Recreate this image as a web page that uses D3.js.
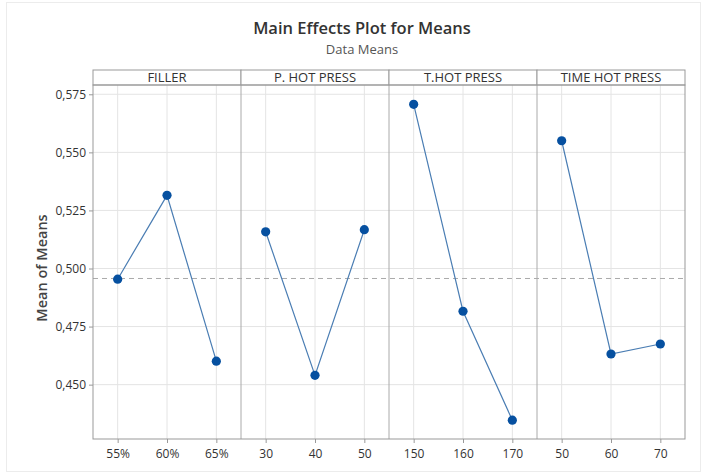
<!DOCTYPE html>
<html><head><meta charset="utf-8">
<script src="https://cdn.jsdelivr.net/npm/d3@7"></script>
<style>body{margin:0;background:#fff;}svg{display:block;font-family:"Open Sans","Noto Sans",sans-serif;}</style>
</head><body><svg id="c" width="707" height="476"></svg>
<script>
const factors = ["FILLER", "P. HOT PRESS", "T.HOT PRESS", "TIME HOT PRESS"];
const levels = [["55%","60%","65%"],["30","40","50"],["150","160","170"],["50","60","70"]];
const means = [[0.4954,0.5315,0.4601],[0.5158,0.4540,0.5167],[0.5707,0.4816,0.4347],[0.5550,0.4632,0.4675]];
const yTicks = [0.450,0.475,0.500,0.525,0.550,0.575];
const grandMean = 0.4957;

const svg = d3.select("#c");
const L=93, R=685, T=85, B=439, HT=70;
svg.append("rect").attr("x",6.5).attr("y",2.5).attr("width",694).attr("height",469).attr("fill","none").attr("stroke","#ececec");
const y = d3.scaleLinear().domain([0.4266,0.579]).range([B,T]);
const px = d3.scaleBand().domain(factors).range([L,R]).padding(0);
const fmt = v => d3.format(".3f")(v).replace(".",",");
const xs = [];

svg.append("g").selectAll("line").data(yTicks).join("line")
  .attr("x1",L).attr("x2",R).attr("y1",d=>y(d)).attr("y2",d=>y(d))
  .attr("stroke","#e4e4e4").attr("stroke-width",1);

factors.forEach((f,i)=>{
  const x0 = px(f), w = px.bandwidth();
  const x = d3.scalePoint().domain(levels[i]).range([x0,x0+w]).padding(0.5);
  xs.push(x);
  svg.append("g").selectAll("line").data(levels[i]).join("line")
    .attr("x1",d=>x(d)).attr("x2",d=>x(d)).attr("y1",T).attr("y2",B)
    .attr("stroke","#e4e4e4");
  const ax = svg.append("g").attr("transform",`translate(0,${B})`)
    .call(d3.axisBottom(x).tickSize(4).tickPadding(6));
  ax.select(".domain").remove();
  ax.selectAll("line").attr("stroke","#999");
  ax.selectAll("text").attr("font-size",12).attr("fill","#333").attr("font-family","'Open Sans',sans-serif");
  svg.append("rect").attr("x",x0).attr("y",HT).attr("width",w).attr("height",T-HT)
    .attr("fill","#fff").attr("stroke","#999").attr("stroke-width",1);
  svg.append("text").attr("x",x0+w/2).attr("y",(HT+T)/2+4.5).attr("text-anchor","middle")
    .attr("font-size",13).attr("fill","#333").text(f);
  if(i>0) svg.append("line").attr("x1",x0).attr("x2",x0).attr("y1",T).attr("y2",B).attr("stroke","#aaa");
});

svg.append("line").attr("x1",L).attr("x2",R).attr("y1",y(grandMean)).attr("y2",y(grandMean))
  .attr("stroke","#aaa").attr("stroke-dasharray","5,4").attr("stroke-width",1);

factors.forEach((f,i)=>{
  const x = xs[i];
  const pts = levels[i].map((l,j)=>[x(l), y(means[i][j])]);
  svg.append("path").attr("d",d3.line()(pts)).attr("fill","none").attr("stroke","#4a7db3").attr("stroke-width",1.2);
  svg.selectAll(null).data(pts).join("circle").attr("cx",d=>d[0]).attr("cy",d=>d[1]).attr("r",4.6).attr("fill","#0650a0");
});

svg.append("rect").attr("x",L).attr("y",T).attr("width",R-L).attr("height",B-T).attr("fill","none").attr("stroke","#999");

const ay = svg.append("g").attr("transform",`translate(${L},0)`)
  .call(d3.axisLeft(y).tickValues(yTicks).tickFormat(fmt).tickSize(4).tickPadding(3));
ay.select(".domain").remove();
ay.selectAll("line").attr("stroke","#999");
ay.selectAll("text").attr("font-size",12).attr("fill","#333").attr("font-family","'Open Sans',sans-serif");

svg.append("text").attr("transform",`translate(47,${(T+B)/2+6}) rotate(-90)`).attr("text-anchor","middle")
  .attr("font-size",14.5).attr("font-weight",600).attr("fill","#444").text("Mean of Means");
svg.append("text").attr("x",362).attr("y",34).attr("text-anchor","middle").attr("font-size",16.5)
  .attr("font-weight",600).attr("fill","#333").text("Main Effects Plot for Means");
svg.append("text").attr("x",362).attr("y",54).attr("text-anchor","middle").attr("font-size",13)
  .attr("fill","#555").text("Data Means");
</script></body></html>
